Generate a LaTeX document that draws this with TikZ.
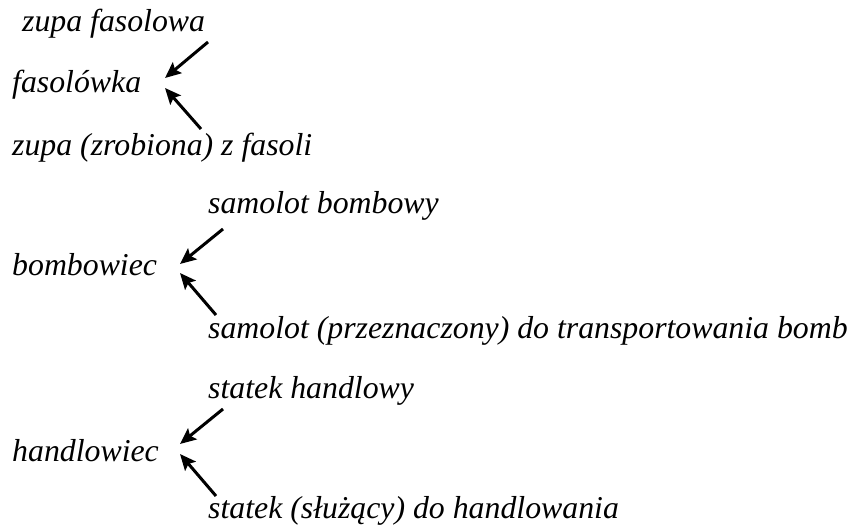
\documentclass[tikz,border=0pt]{standalone}
\usepackage{fontspec}
\setmainfont{Liberation Serif}
\usetikzlibrary{arrows.meta}
\tikzset{
  word/.style={anchor=base west, inner sep=0pt, font=\fontsize{31.8}{36}\selectfont\itshape},
  derive/.style={line width=3pt, -{Stealth[length=16pt,width=14pt,inset=3pt]}}
}
\begin{document}
\begin{tikzpicture}[x=1pt,y=-1pt]
\useasboundingbox (0,0) rectangle (851,526);
% fasolówka
\node[word] (zf) at (22,32) {zupa fasolowa};
\node[word] (fa) at (12,93) {fasolówka};
\node[word] (zz) at (12,156) {zupa (zrobiona) z fasoli};
\coordinate (fa1) at (208,42);  \coordinate (fah1) at (165,78);
\coordinate (fa2) at (201,129); \coordinate (fah2) at (165,88);
\draw[derive] (fa1) -- (fah1);
\draw[derive] (fa2) -- (fah2);
% bombowiec
\node[word] (sb) at (208,214) {samolot bombowy};
\node[word] (bo) at (12,276) {bombowiec};
\node[word] (sp) at (208,338) {samolot (przeznaczony) do transportowania bomb};
\coordinate (bo1) at (223,229); \coordinate (boh1) at (180,264);
\coordinate (bo2) at (216,315); \coordinate (boh2) at (180,273);
\draw[derive] (bo1) -- (boh1);
\draw[derive] (bo2) -- (boh2);
% handlowiec
\node[word] (sh) at (208,398) {statek handlowy};
\node[word] (ha) at (12,461) {handlowiec};
\node[word] (ss) at (208,518) {statek (służący) do handlowania};
\coordinate (ha1) at (223,409); \coordinate (hah1) at (180,444);
\coordinate (ha2) at (216,496); \coordinate (hah2) at (180,454);
\draw[derive] (ha1) -- (hah1);
\draw[derive] (ha2) -- (hah2);
\end{tikzpicture}
\end{document}
